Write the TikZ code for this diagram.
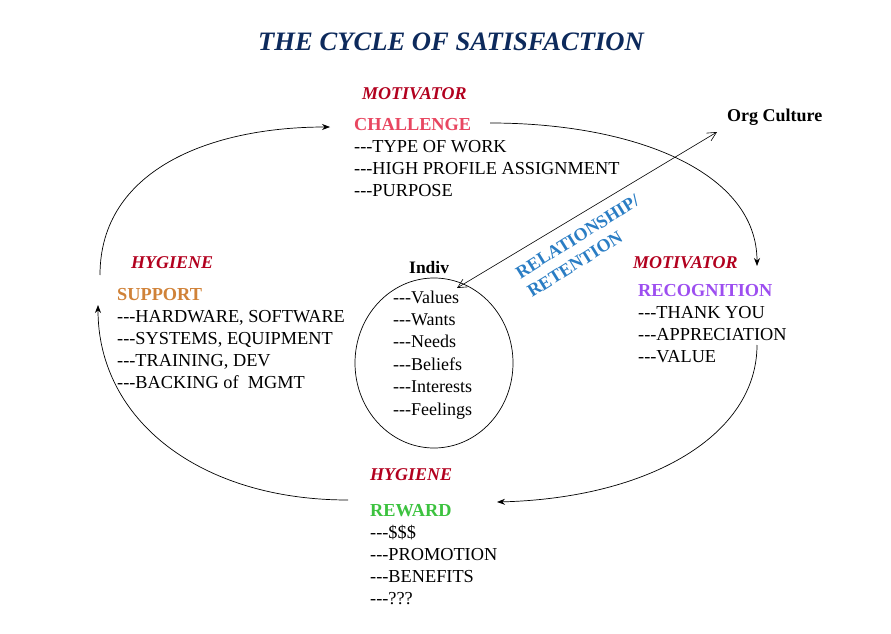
\documentclass[tikz,border=0pt]{standalone}
\usepackage{fontspec}
\setmainfont{Liberation Serif}
\usetikzlibrary{arrows.meta}
\definecolor{navy}{RGB}{13,42,92}
\definecolor{catred}{RGB}{178,0,30}
\definecolor{chal}{RGB}{232,70,96}
\definecolor{supp}{RGB}{208,130,56}
\definecolor{reco}{RGB}{157,78,240}
\definecolor{rewa}{RGB}{60,194,63}
\definecolor{relb}{RGB}{42,125,196}
\newcommand\dsh{-{}-{}-}
\tikzset{
  txt/.style={inner sep=0pt, anchor=base west, align=left, font=\fontsize{18.3}{22}\selectfont},
  cat/.style={txt, font=\fontsize{18}{22}\selectfont\bfseries\itshape, text=catred},
  cyc/.style={-{Stealth[length=8pt,width=6pt]}, line width=0.7pt},
  rel/.style={{Straight Barb[length=9pt,width=9pt]}-{Straight Barb[length=9pt,width=9pt]}, line width=0.6pt}
}
\begin{document}
\begin{tikzpicture}[x=1pt,y=-1pt]
\useasboundingbox (0,0) rectangle (891,634);
\node[txt, font=\fontsize{26.6}{30}\selectfont\bfseries\itshape, text=navy] (title) at (258,51) {THE CYCLE OF SATISFACTION};

\node[cat] (motA) at (362,99) {MOTIVATOR};
% base anchor = last line baseline
\node[txt] (chal) at (354,196) {\textbf{\textcolor{chal}{CHALLENGE}}\\\dsh TYPE OF WORK\\\dsh HIGH PROFILE ASSIGNMENT\\\dsh PURPOSE};

\node[txt, font=\fontsize{18}{22}\selectfont\bfseries] (org) at (727,121) {Org Culture};

\node[cat] (hygA) at (131,268) {HYGIENE};
\node[txt] (supp) at (117,388) {\textbf{\textcolor{supp}{SUPPORT}}\\\dsh HARDWARE, SOFTWARE\\\dsh SYSTEMS, EQUIPMENT\\\dsh TRAINING, DEV\\\dsh BACKING of\ \ MGMT};

\node[cat] (motB) at (633,268) {MOTIVATOR};
\node[txt] (reco) at (638,362) {\textbf{\textcolor{reco}{RECOGNITION}}\\\dsh THANK YOU\\\dsh APPRECIATION\\\dsh VALUE};

\node[txt, font=\fontsize{17.5}{22}\selectfont\bfseries] (indivlab) at (409,273) {Indiv};
\draw[line width=0.7pt] (434,363) ellipse [x radius=79, y radius=85];
\coordinate (indiv) at (434,363);
\node[txt, font=\fontsize{18}{22.4}\selectfont] (items) at (393,415) {\dsh Values\\\dsh Wants\\\dsh Needs\\\dsh Beliefs\\\dsh Interests\\\dsh Feelings};

\node[cat] (hygB) at (370,480) {HYGIENE};
\node[txt] (rewa) at (370,604) {\textbf{\textcolor{rewa}{REWARD}}\\\dsh\$\$\$\\\dsh PROMOTION\\\dsh BENEFITS\\\dsh ???};

\node[txt, font=\fontsize{18}{22}\selectfont\bfseries, text=relb, rotate=32] (rel) at (532,298) {RELATIONSHIP/\\RETENTION};

\coordinate (pA) at (100,275);
\coordinate (pB) at (330,127);
\coordinate (pC) at (490,123);
\coordinate (pD) at (757,266);
\coordinate (pE) at (757,345);
\coordinate (pF) at (497,502);
\coordinate (pG) at (348,500);
\coordinate (pH) at (98,305);
\coordinate (rA) at (457,288);
\coordinate (rB) at (717,132);

\draw[cyc] (pA) .. controls (100,170) and (210,127) .. (pB);
\draw[cyc] (pC) .. controls (635,123) and (757,172) .. (pD);
\draw[cyc] (pE) .. controls (757,435) and (650,498) .. (pF);
\draw[cyc] (pG) .. controls (200,500) and (98,420) .. (pH);
\draw[rel] (rA) -- (rB);
\end{tikzpicture}
\end{document}
